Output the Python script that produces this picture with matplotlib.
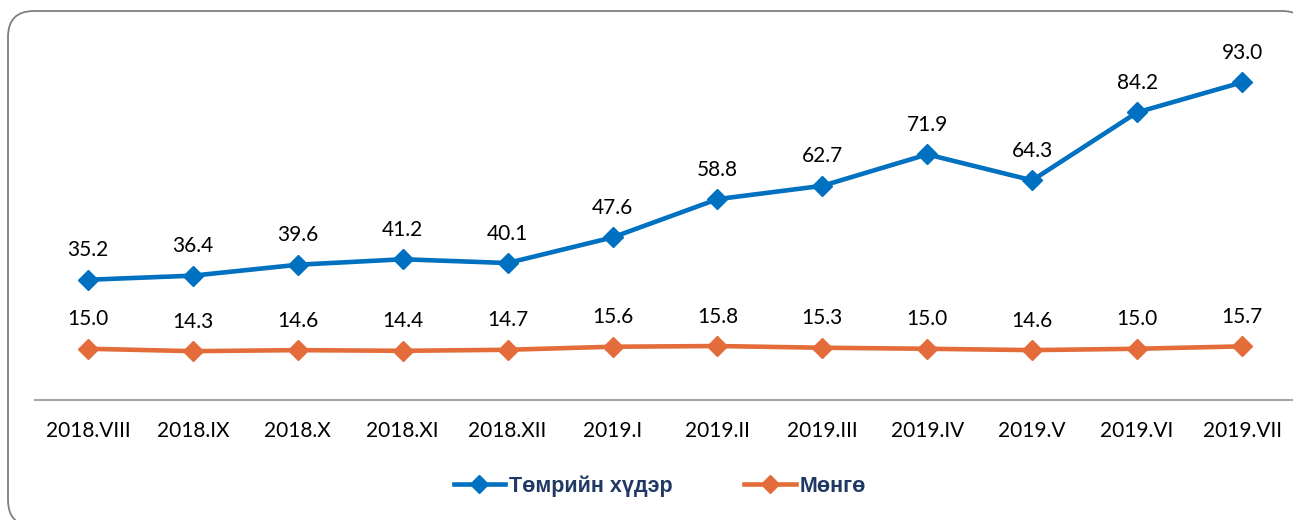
import matplotlib.pyplot as plt
import numpy as np
from matplotlib.patches import FancyBboxPatch
from matplotlib.lines import Line2D
from matplotlib.transforms import IdentityTransform

months = ['2018.VIII', '2018.IX', '2018.X', '2018.XI', '2018.XII', '2019.I',
          '2019.II', '2019.III', '2019.IV', '2019.V', '2019.VI', '2019.VII']
iron = [35.2, 36.4, 39.6, 41.2, 40.1, 47.6, 58.8, 62.7, 71.9, 64.3, 84.2, 93.0]
silver = [15.0, 14.3, 14.6, 14.4, 14.7, 15.6, 15.8, 15.3, 15.0, 14.6, 15.0, 15.7]
names = ['Төмрийн хүдэр', 'Мөнгө']

blue = '#0070C0'
orange = '#E46C3A'

W, H = 1293, 520
fig = plt.figure(figsize=(W / 100, H / 100), dpi=100)

# rounded frame (pixel coords), cut by the right and bottom edges like the original
box = FancyBboxPatch((8, -6), 1300, 515,
                     boxstyle='round,pad=0,rounding_size=26',
                     transform=IdentityTransform(), fc='white', ec='#7f7f7f', lw=1.3,
                     zorder=-5)
fig.patches.append(box)

ax = fig.add_axes([35.5 / W, 1 - 400 / H, 1259 / W, 345 / H])
x = np.arange(len(months))
ax.plot(x, iron, color=blue, lw=3.3, marker='D', ms=10, clip_on=False)
ax.plot(x, silver, color=orange, lw=3.3, marker='D', ms=10, clip_on=False)

for i in range(len(x)):
    ax.annotate('%.1f' % iron[i], (x[i], iron[i]), xytext=(0, 14),
                textcoords='offset points', ha='center', va='bottom', fontsize=15,
                family='Lato')
    ax.annotate('%.1f' % silver[i], (x[i], silver[i]), xytext=(0, 14),
                textcoords='offset points', ha='center', va='bottom', fontsize=15,
                family='Lato')

ax.set_xlim(-0.5, len(months) - 0.5)
ax.set_ylim(0, 101)
ax.set_xticks(x)
ax.set_xticklabels(months, fontsize=15, family='Lato')
ax.tick_params(axis='x', length=0, pad=15)
ax.set_yticks([])
for s in ['top', 'right', 'left']:
    ax.spines[s].set_visible(False)
ax.spines['bottom'].set_color('#a6a6a6')
ax.spines['bottom'].set_linewidth(1.5)
ax.patch.set_alpha(0)

handles = [Line2D([], [], color=blue, lw=3.3, marker='D', ms=9),
           Line2D([], [], color=orange, lw=3.3, marker='D', ms=9)]
leg = fig.legend(handles, names, loc='center', bbox_to_anchor=(660 / W, 1 - 486 / H),
                 ncol=2, frameon=False, handlelength=2.4, columnspacing=3.3,
                 handletextpad=0.2,
                 prop={'family': 'Liberation Sans', 'weight': 'bold', 'size': 15.5})
for t in leg.get_texts():
    t.set_color('#1F3864')

fig.savefig('out.png', dpi=100)
